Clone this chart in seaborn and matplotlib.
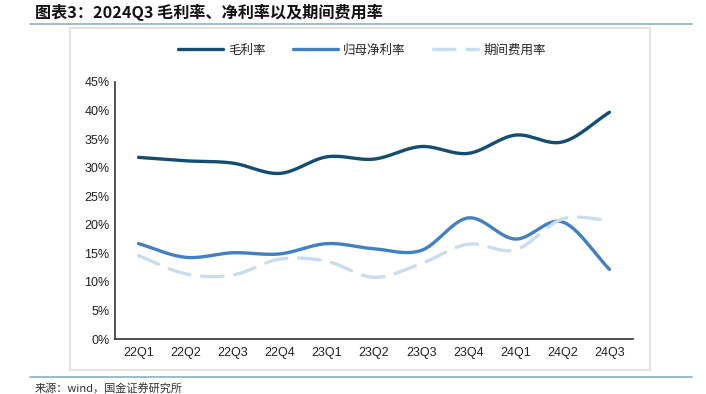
import numpy as np
import pandas as pd
import matplotlib
matplotlib.use("Agg")
import matplotlib.pyplot as plt
import seaborn as sns
from matplotlib.patches import Rectangle
from matplotlib.lines import Line2D

categories = ["22Q1", "22Q2", "22Q3", "22Q4", "23Q1", "23Q2", "23Q3", "23Q4", "24Q1", "24Q2", "24Q3"]
gross_margin = [31.8, 31.2, 30.8, 29.0, 31.9, 31.5, 33.7, 32.5, 35.7, 34.5, 39.7]
net_margin = [16.7, 14.3, 15.1, 14.9, 16.7, 15.8, 15.5, 21.2, 17.5, 20.5, 12.2]
expense_ratio = [14.6, 11.4, 11.2, 14.0, 13.6, 10.8, 13.2, 16.6, 15.6, 21.0, 20.8]
yticks = [0, 5, 10, 15, 20, 25, 30, 35, 40, 45]
names = ["毛利率", "归母净利率", "期间费用率"]
colors = ["#134d70", "#4280c2", "#cadcef"]

sns.set_theme(style="white")
plt.rcParams["font.family"] = ["Liberation Sans", "Noto Sans CJK SC", "DejaVu Sans"]


def smooth(vals, n=30):
    y = np.asarray(vals, float)
    x = np.arange(len(y), dtype=float)
    m = np.zeros_like(y)
    m[1:-1] = (y[2:] - y[:-2]) / 2.0
    m[0] = y[1] - y[0]
    m[-1] = y[-1] - y[-2]
    xs, ys = [], []
    for i in range(len(y) - 1):
        t = np.linspace(0, 1, n, endpoint=(i == len(y) - 2))
        h00 = 2 * t**3 - 3 * t**2 + 1
        h10 = t**3 - 2 * t**2 + t
        h01 = -2 * t**3 + 3 * t**2
        h11 = t**3 - t**2
        xs.append(x[i] + t)
        ys.append(h00 * y[i] + h10 * m[i] + h01 * y[i + 1] + h11 * m[i + 1])
    return np.concatenate(xs), np.concatenate(ys)


W, H = 706, 394
fig = plt.figure(figsize=(W / 100, H / 100), dpi=100)
ax = fig.add_axes([115 / W, (H - 339) / H, (633 - 115) / W, (339 - 82) / H])

series = [gross_margin, net_margin, expense_ratio]
for vals, name, col in zip(series, names, colors):
    xs, ys = smooth(vals)
    df = pd.DataFrame({"x": xs, "y": ys})
    sns.lineplot(data=df, x="x", y="y", ax=ax, color=col, linewidth=2.4,
                 sort=False, estimator=None)
    if name == "期间费用率":
        ax.lines[-1].set_dashes([6.5, 3.5])
        ax.lines[-1].set_dash_capstyle("round")
    else:
        ax.lines[-1].set_solid_capstyle("round")

ax.set_xlim(-0.5, len(categories) - 0.5)
ax.set_ylim(0, 45)
ax.set_yticks(yticks)
ax.set_yticklabels([f"{v}%" for v in yticks], fontsize=9, color="#222222")
ax.set_xticks(np.arange(-0.5, len(categories), 1.0))
ax.set_xticklabels([])
ax.set_xticks(np.arange(len(categories)), minor=True)
ax.set_xticklabels(categories, minor=True, fontsize=9, color="#222222")
ax.tick_params(axis="x", which="major", direction="in", length=4, width=1, color="#333333")
ax.tick_params(axis="x", which="minor", length=0, pad=6)
ax.tick_params(axis="y", direction="in", length=4, width=1, color="#333333", pad=4)
ax.set_xlabel("")
ax.set_ylabel("")
for s in ["top", "right"]:
    ax.spines[s].set_visible(False)
for s in ["left", "bottom"]:
    ax.spines[s].set_color("#333333")
    ax.spines[s].set_linewidth(1.2)
ax.patch.set_alpha(0)

# outer chart box
fig.patches.append(Rectangle((70 / W, (H - 370) / H), (650 - 70) / W, (370 - 28) / H,
                             transform=fig.transFigure, fill=False,
                             edgecolor="#e3e3e3", linewidth=1.5, zorder=0))
# title and separator lines
fig.add_artist(Line2D([30 / W, 692 / W], [(H - 24) / H] * 2, color="#8fb0c4", linewidth=1.2))
fig.add_artist(Line2D([30 / W, 692 / W], [(H - 377) / H] * 2, color="#8fb0c4", linewidth=1.2))
fig.text(35 / W, (H - 12) / H, "图表3：2024Q3 毛利率、净利率以及期间费用率",
         fontsize=11.6, fontweight="bold", style="italic", va="center", ha="left",
         family=["Noto Sans CJK SC", "DejaVu Sans"], color="#111111")
fig.text(35 / W, (H - 388) / H, "来源：wind，国金证券研究所", fontsize=8, va="center",
         ha="left", family=["Noto Sans CJK SC", "DejaVu Sans"], color="#333333")

handles = []
for name, col in zip(names, colors):
    if name == "期间费用率":
        h = Line2D([], [], color=col, linewidth=2.4, dashes=[6.5, 3.5], dash_capstyle="round")
    else:
        h = Line2D([], [], color=col, linewidth=2.4, solid_capstyle="round")
    handles.append(h)
leg = fig.legend(handles, names, loc="center", bbox_to_anchor=(362 / W, (H - 50) / H),
                 ncol=3, frameon=False, fontsize=9, handlelength=3.6, columnspacing=2.2,
                 handletextpad=0.4, prop={"family": ["Noto Sans CJK SC", "DejaVu Sans"], "size": 9})

fig.savefig("out.png", dpi=100)
